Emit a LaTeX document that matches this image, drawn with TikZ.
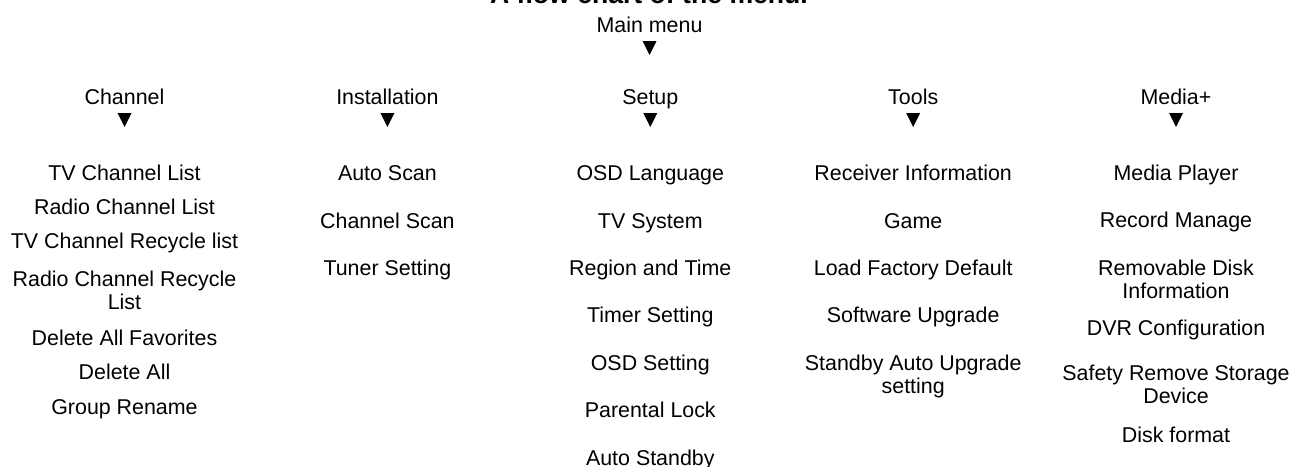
\documentclass[tikz,border=0pt]{standalone}
\usepackage{fontspec}
\setmainfont{Liberation Sans}
\newcommand\twoline[2]{\vtop{\baselineskip=23.5pt\halign{\hfil##\hfil\cr#1\cr#2\cr}}}
\begin{document}
\begin{tikzpicture}[x=1pt,y=-1pt,
  lbl/.style={anchor=base,inner sep=0pt,font=\fontsize{21.4}{23.5}\selectfont},
  ttl/.style={anchor=base,inner sep=0pt,font=\fontsize{26.6}{30}\selectfont\bfseries},
  downtri/.pic={\fill (-7,0) -- (7,0) -- (0,14) -- cycle;}]
\useasboundingbox (0,0) rectangle (1290,466);
% title and root
\node[ttl] (title) at (649,3.5) {A flow chart of the menu.};
\node[lbl] (main) at (649.5,32) {Main menu};
\pic at (649.5,41) {downtri};
% column headers
\def\ca{124.5}\def\cb{387.4}\def\cc{650.3}\def\cd{913.2}\def\ce{1176}
\node[lbl] (ch) at (\ca,104) {Channel};
\node[lbl] (inst) at (\cb,104) {Installation};
\node[lbl] (se) at (\cc,104) {Setup};
\node[lbl] (to) at (\cd,104) {Tools};
\node[lbl] (me) at (\ce,104) {Media+};
\foreach \c in {\ca,\cb,\cc,\cd,\ce} {\pic at (\c,113) {downtri};}
% Channel
\node[lbl] (ch1) at (\ca,180) {TV Channel List};
\node[lbl] (ch2) at (\ca,214) {Radio Channel List};
\node[lbl] (ch3) at (\ca,248) {TV Channel Recycle list};
\node[lbl] (ch4) at (\ca,286) {\twoline{Radio Channel Recycle}{List}};
\node[lbl] (ch5) at (\ca,345) {Delete All Favorites};
\node[lbl] (ch6) at (\ca,379) {Delete All};
\node[lbl] (ch7) at (\ca,414) {Group Rename};
% Installation
\node[lbl] (in1) at (\cb,180) {Auto Scan};
\node[lbl] (in2) at (\cb,228) {Channel Scan};
\node[lbl] (in3) at (\cb,275) {Tuner Setting};
% Setup
\node[lbl] (se1) at (\cc,180) {OSD Language};
\node[lbl] (se2) at (\cc,228) {TV System};
\node[lbl] (se3) at (\cc,275) {Region and Time};
\node[lbl] (se4) at (\cc,322) {Timer Setting};
\node[lbl] (se5) at (\cc,370) {OSD Setting};
\node[lbl] (se6) at (\cc,417) {Parental Lock};
\node[lbl] (se7) at (\cc,465) {Auto Standby};
% Tools
\node[lbl] (to1) at (\cd,180) {Receiver Information};
\node[lbl] (to2) at (\cd,228) {Game};
\node[lbl] (to3) at (\cd,275) {Load Factory Default};
\node[lbl] (to4) at (\cd,322) {Software Upgrade};
\node[lbl] (to5) at (\cd,370) {\twoline{Standby Auto Upgrade}{setting}};
% Media+
\node[lbl] (me1) at (\ce,180) {Media Player};
\node[lbl] (me2) at (\ce,227) {Record Manage};
\node[lbl] (me3) at (\ce,275) {\twoline{Removable Disk}{Information}};
\node[lbl] (me4) at (\ce,335) {DVR Configuration};
\node[lbl] (me5) at (\ce,380) {\twoline{Safety Remove Storage}{Device}};
\node[lbl] (me6) at (\ce,442) {Disk format};
\end{tikzpicture}
\end{document}
